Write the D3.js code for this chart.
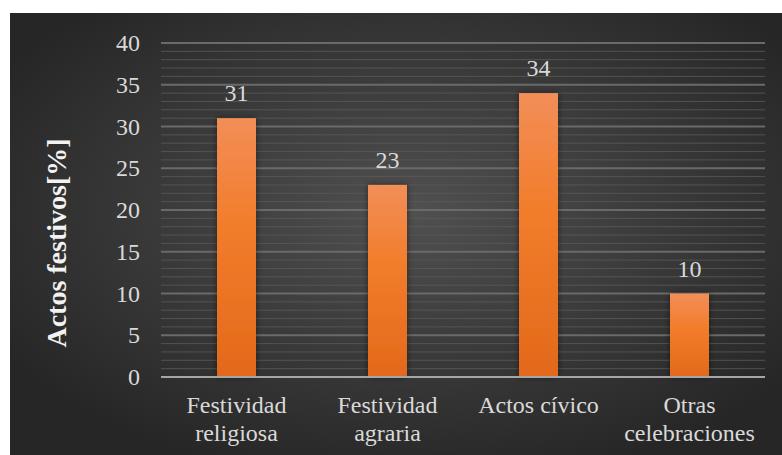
<!DOCTYPE html>
<html><head><meta charset="utf-8">
<script src="https://cdn.jsdelivr.net/npm/d3@7"></script>
<style>html,body{margin:0;padding:0;background:#fff;}</style>
</head><body>
<script>
const categories = [["Festividad","religiosa"],["Festividad","agraria"],["Actos cívico"],["Otras","celebraciones"]];
const values = [31, 23, 34, 10];
const yTicks = [0,5,10,15,20,25,30,35,40];
const yTitle = "Actos festivos[%]";

(function(){
const FONT = '"Liberation Serif"';
const W = 782, H = 455;
const svg = d3.select("body").append("svg").attr("width", W).attr("height", H).style("display","block");
const defs = svg.append("defs");

const bg = defs.append("radialGradient").attr("id","bg").attr("cx","52%").attr("cy","45%").attr("r","62%");
bg.append("stop").attr("offset","0%").attr("stop-color","#505050");
bg.append("stop").attr("offset","100%").attr("stop-color","#262626");

const bar = defs.append("linearGradient").attr("id","bar").attr("x1",0).attr("y1",0).attr("x2",0).attr("y2",1);
bar.append("stop").attr("offset","0%").attr("stop-color","#F28E58");
bar.append("stop").attr("offset","40%").attr("stop-color","#F27D2C");
bar.append("stop").attr("offset","100%").attr("stop-color","#E2691A");

const sh = defs.append("filter").attr("id","sh").attr("x","-30%").attr("y","-10%").attr("width","160%").attr("height","120%");
sh.append("feDropShadow").attr("dx",0).attr("dy",0).attr("stdDeviation",3).attr("flood-color","#000").attr("flood-opacity",0.5);

svg.append("rect").attr("x",10).attr("y",13).attr("width",W-10).attr("height",H-13).attr("fill","url(#bg)");

const pl = 161, pr = 765, pt = 43, pb = 377;
const x = d3.scaleBand().domain(d3.range(categories.length)).range([pl,pr]).paddingInner(0).paddingOuter(0);
const y = d3.scaleLinear().domain([0,40]).range([pb,pt]);

const g = svg.append("g");
g.selectAll("line.minor").data(d3.range(1,40).filter(v=>v%5!==0)).join("line")
  .attr("x1",pl).attr("x2",pr).attr("y1",d=>y(d)).attr("y2",d=>y(d))
  .attr("stroke","#5a5a5a").attr("stroke-width",1).attr("opacity",0.8);
g.selectAll("line.major").data(yTicks.filter(v=>v>0)).join("line")
  .attr("x1",pl).attr("x2",pr).attr("y1",d=>y(d)).attr("y2",d=>y(d))
  .attr("stroke","#6a6a6a").attr("stroke-width",2);

const yAxis = d3.axisLeft(y).tickValues(yTicks).tickSize(0).tickPadding(21);
const ya = svg.append("g").attr("transform",`translate(${pl},0)`).call(yAxis);
ya.select(".domain").remove();
ya.selectAll("text").style("font-family",FONT).style("font-size","24px").attr("fill","#d9d9d9");

const bw = 39;
svg.selectAll("rect.bar").data(values).join("rect")
  .attr("x",(d,i)=>x(i)+x.bandwidth()/2-bw/2).attr("width",bw)
  .attr("y",d=>y(d)).attr("height",d=>pb-y(d))
  .attr("fill","url(#bar)").attr("filter","url(#sh)");

svg.selectAll("text.val").data(values).join("text")
  .attr("x",(d,i)=>x(i)+x.bandwidth()/2).attr("y",d=>y(d)-17)
  .attr("text-anchor","middle").style("font-family",FONT).style("font-size","24px")
  .attr("fill","#d9d9d9").text(d=>d);

svg.append("line").attr("x1",pl).attr("x2",pr).attr("y1",pb).attr("y2",pb)
  .attr("stroke","#a6a6a6").attr("stroke-width",2);

const cl = svg.selectAll("text.cat").data(categories).join("text")
  .attr("text-anchor","middle").style("font-family",FONT).style("font-size","24px")
  .attr("fill","#d9d9d9");
cl.each(function(d,i){
  const t = d3.select(this);
  d.forEach((s,j)=>t.append("tspan").attr("x",x(i)+x.bandwidth()/2).attr("y",413+j*28).text(s));
});

svg.append("text").attr("transform",`translate(66,243) rotate(-90)`)
  .attr("text-anchor","middle").style("font-family",FONT).style("font-size","28px")
  .style("font-weight","bold").attr("fill","#f2f2f2").text(yTitle);
})();
</script>
</body></html>
